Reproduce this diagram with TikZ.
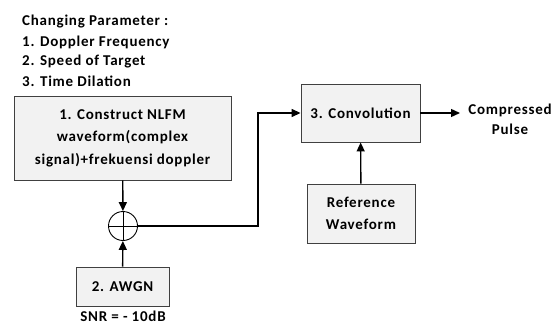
\documentclass[tikz,border=0pt]{standalone}
\usepackage{fontspec}
\setmainfont{Carlito}[LetterSpace=5]
\usetikzlibrary{arrows.meta}
\begin{document}
\begin{tikzpicture}[x=1pt,y=-1pt,
  blk/.style={draw=black!75,fill=black!5,line width=0.9pt,inner sep=0pt,font=\bfseries\fontsize{15}{22.5}\selectfont,align=center},
  lbl/.style={font=\bfseries\fontsize{15}{20}\selectfont,inner sep=0pt},
  conn/.style={line width=1.4pt,-{Triangle[length=9pt,width=8pt]}}]
\useasboundingbox (0,0) rectangle (559,324);
% parameter list
\node[lbl,anchor=west] (h0) at (22,22) {Changing Parameter :};
\node[lbl,anchor=west] (h1) at (22,42) {1. Doppler Frequency};
\node[lbl,anchor=west] (h2) at (22,62) {2. Speed of Target};
\node[lbl,anchor=west] (h3) at (22,81) {3. Time Dilation};
% blocks
\node[blk,minimum width=217pt,minimum height=84pt] (nlfm) at (122.5,138)
  {1. Construct NLFM\\waveform(complex\\signal)+frekuensi doppler};
\node[draw,line width=0.9pt,circle,minimum size=29pt,inner sep=0pt] (sum) at (123,226) {};
\draw[line width=0.9pt] (sum.north) -- (sum.south) (sum.west) -- (sum.east);
\node[blk,minimum width=93pt,minimum height=39pt] (awgn) at (122.5,286.5) {2. AWGN};
\node[lbl] (snr) at (123,316) {SNR = - 10dB};
\node[blk,minimum width=119pt,minimum height=58pt] (conv) at (360.5,113) {3. Convolution};
\node[blk,minimum width=108pt,minimum height=59pt] (ref) at (361,213.5) {Reference\\Waveform};
\node[lbl,align=center] (out) at (510,119) {Compressed\\Pulse};
\coordinate (outend) at (460,113);
\coordinate (bend) at (258,226);
% connectors
\draw[conn] (nlfm) -- (sum);
\draw[conn] (awgn) -- (sum);
\draw[conn] (sum.east) -- (bend) |- (conv.west);
\draw[conn] (conv.east) -- (outend);
\draw[conn] (ref) -- (conv);
\end{tikzpicture}
\end{document}
